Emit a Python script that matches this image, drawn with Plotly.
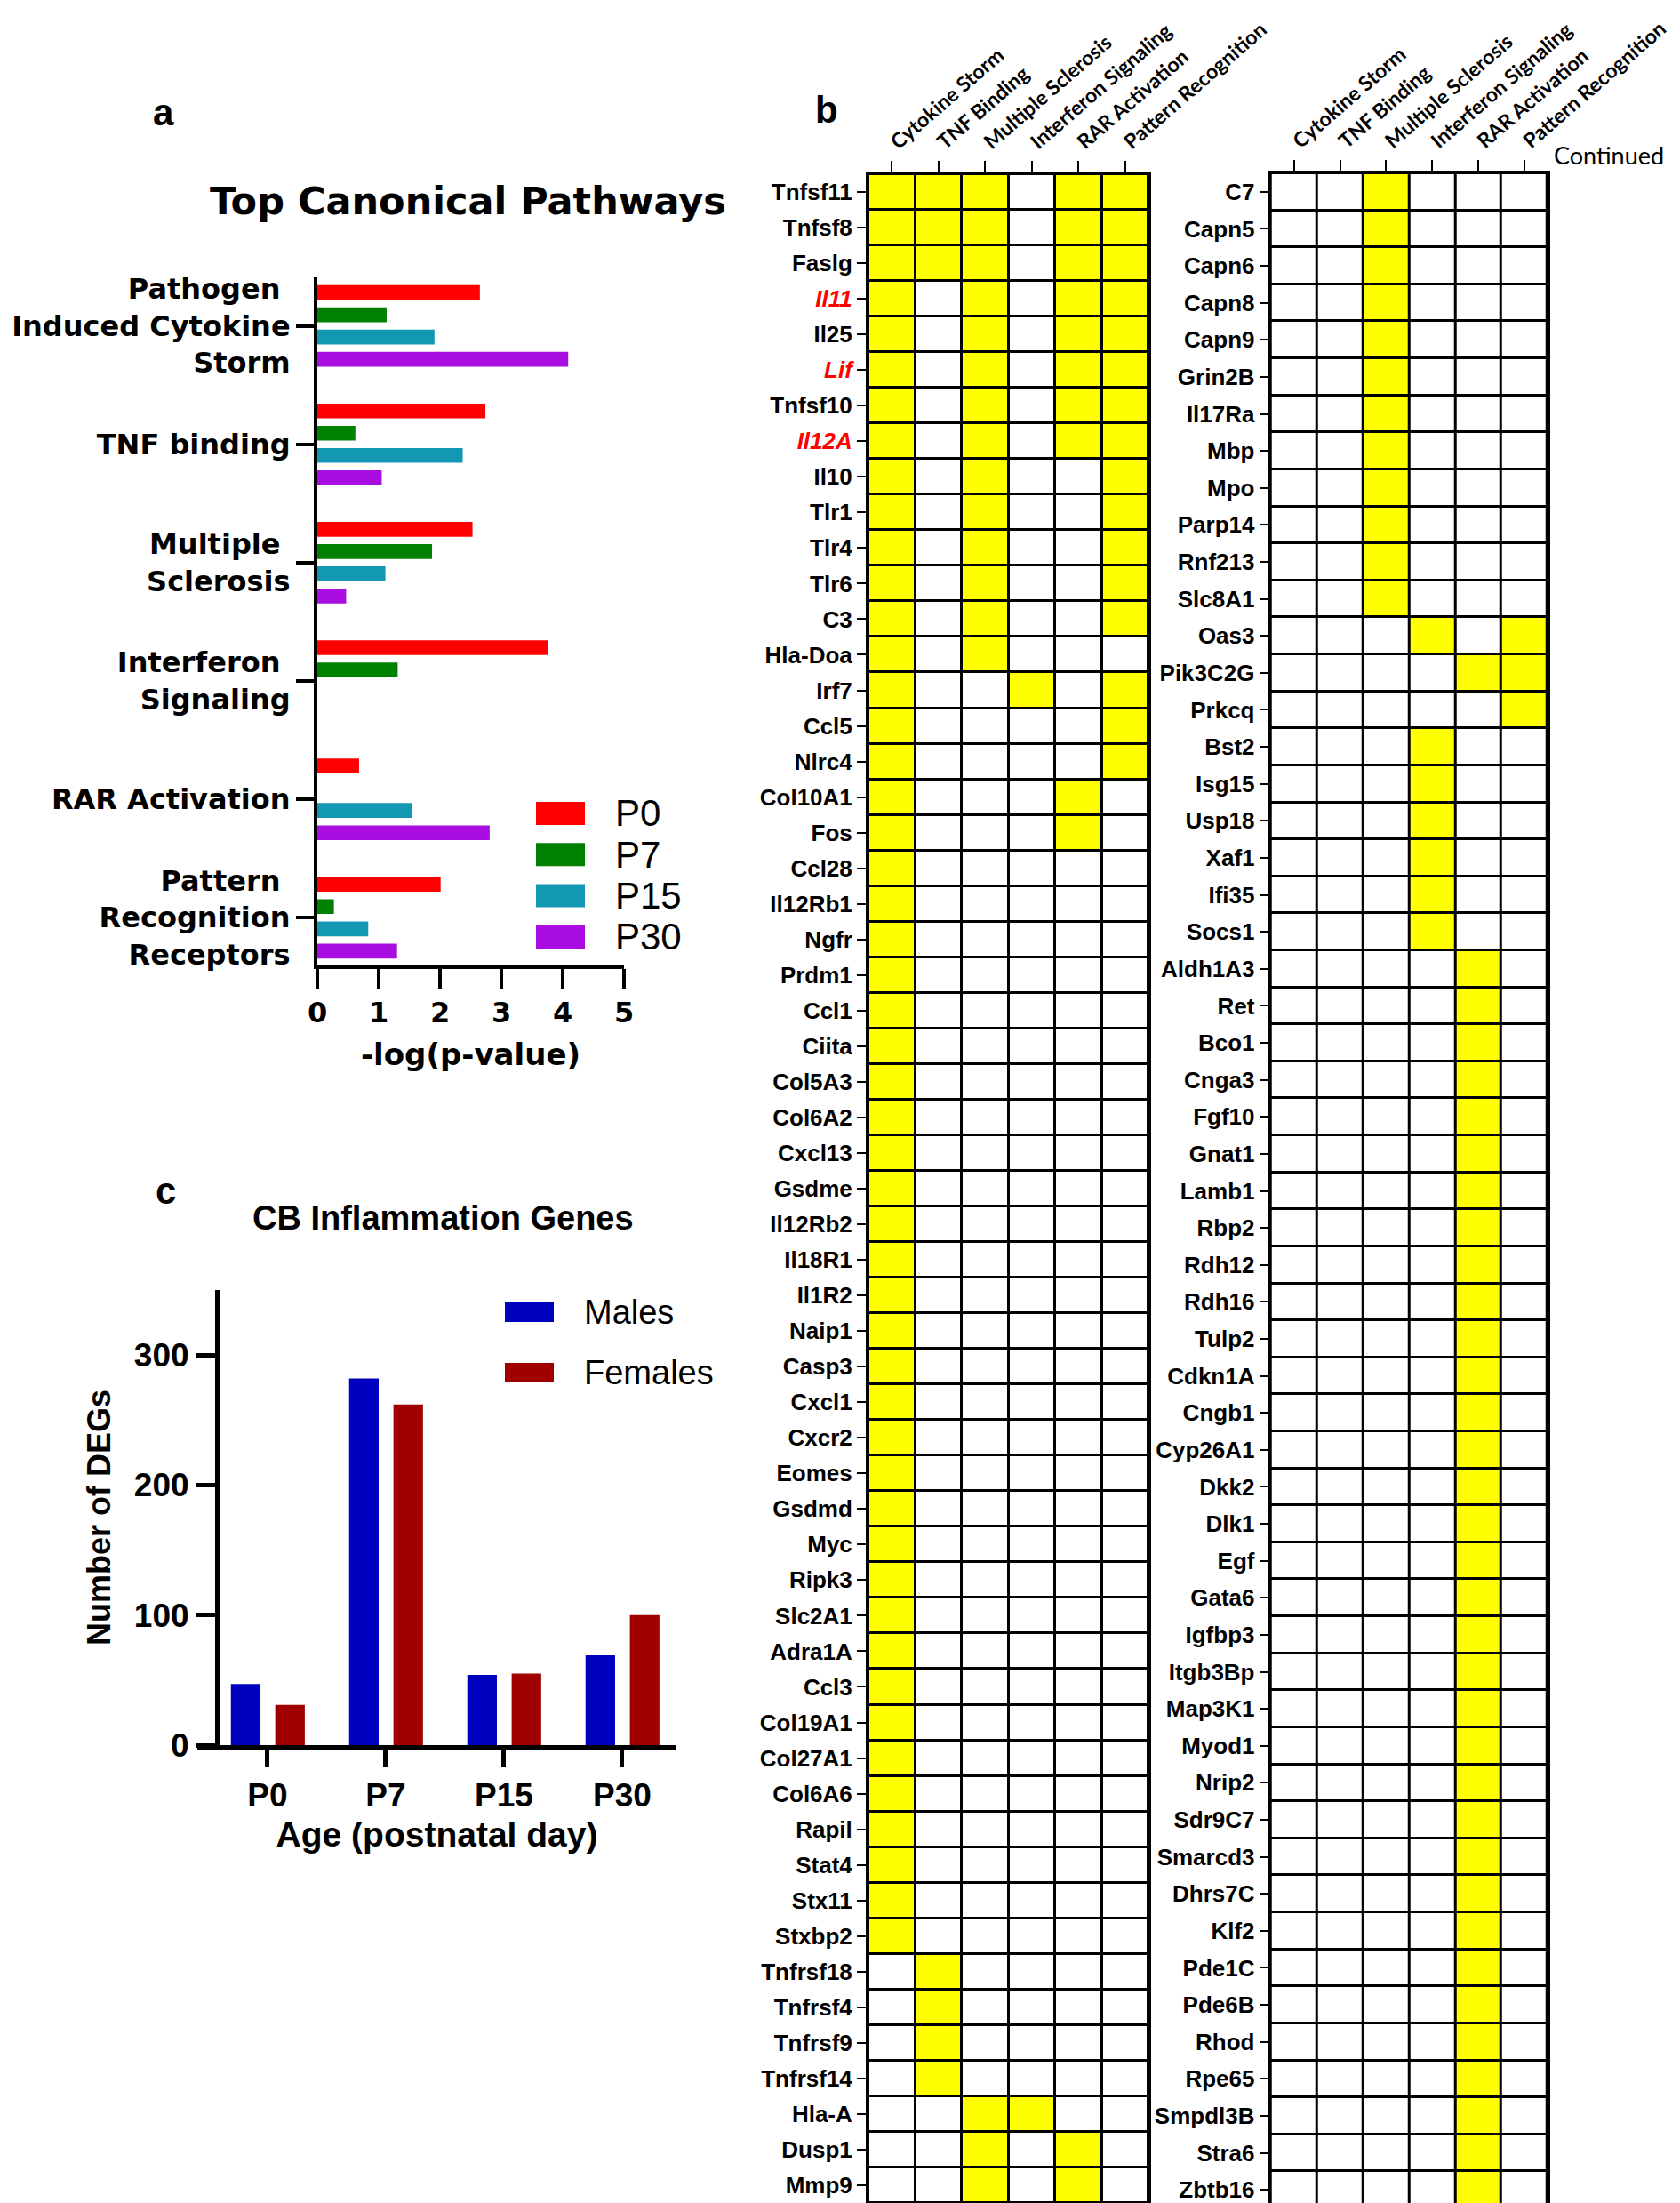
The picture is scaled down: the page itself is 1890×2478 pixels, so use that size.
import plotly.graph_objects as go

W, H = 1890, 2478

# ---------------- Panel a data ----------------
pathway_labels_a = [
    "Pathogen\u00a0<br>Induced Cytokine<br>Storm",
    "TNF binding",
    "Multiple\u00a0<br>Sclerosis",
    "Interferon\u00a0<br>Signaling",
    "RAR Activation",
    "Pattern\u00a0<br>Recognition<br>Receptors",
]
ages_a = ["P0", "P7", "P15", "P30"]
p0_vals = [2.65, 2.74, 2.53, 3.76, 0.68, 2.01]
p7_vals = [1.13, 0.62, 1.87, 1.31, None, 0.27]
p15_vals = [1.91, 2.37, 1.11, None, 1.55, 0.83]
p30_vals = [4.09, 1.05, 0.47, None, 2.81, 1.30]
colors_a = ["#FF0000", "#008000", "#1398B4", "#AA0DE0"]
xticks_a = [0, 1, 2, 3, 4, 5]

# ---------------- Panel b data ----------------
pathway_cols = ["Cytokine Storm", "TNF Binding", "Multiple Sclerosis",
                "Interferon Signaling", "RAR Activation", "Pattern Recognition"]

genes_left = ["Tnfsf11", "Tnfsf8", "Faslg", "Il11", "Il25", "Lif", "Tnfsf10", "Il12A",
              "Il10", "Tlr1", "Tlr4", "Tlr6", "C3", "Hla-Doa", "Irf7", "Ccl5", "Nlrc4",
              "Col10A1", "Fos", "Ccl28", "Il12Rb1", "Ngfr", "Prdm1", "Ccl1", "Ciita",
              "Col5A3", "Col6A2", "Cxcl13", "Gsdme", "Il12Rb2", "Il18R1", "Il1R2", "Naip1",
              "Casp3", "Cxcl1", "Cxcr2", "Eomes", "Gsdmd", "Myc", "Ripk3", "Slc2A1",
              "Adra1A", "Ccl3", "Col19A1", "Col27A1", "Col6A6", "Rapil", "Stat4", "Stx11",
              "Stxbp2", "Tnfrsf18", "Tnfrsf4", "Tnfrsf9", "Tnfrsf14", "Hla-A", "Dusp1", "Mmp9"]
membership_left = ["111011", "111011", "111011", "101011", "101011", "101011", "101011", "101011",
                   "101001", "101001", "101001", "101001", "101001", "101000", "100101", "100001",
                   "100001", "100010", "100010", "100000", "100000", "100000", "100000", "100000",
                   "100000", "100000", "100000", "100000", "100000", "100000", "100000", "100000",
                   "100000", "100000", "100000", "100000", "100000", "100000", "100000", "100000",
                   "100000", "100000", "100000", "100000", "100000", "100000", "100000", "100000",
                   "100000", "100000", "010000", "010000", "010000", "010000", "001100", "001010",
                   "001010"]
highlight_genes = ["Il11", "Lif", "Il12A"]

genes_right = ["C7", "Capn5", "Capn6", "Capn8", "Capn9", "Grin2B", "Il17Ra", "Mbp", "Mpo",
               "Parp14", "Rnf213", "Slc8A1", "Oas3", "Pik3C2G", "Prkcq", "Bst2", "Isg15",
               "Usp18", "Xaf1", "Ifi35", "Socs1", "Aldh1A3", "Ret", "Bco1", "Cnga3", "Fgf10",
               "Gnat1", "Lamb1", "Rbp2", "Rdh12", "Rdh16", "Tulp2", "Cdkn1A", "Cngb1",
               "Cyp26A1", "Dkk2", "Dlk1", "Egf", "Gata6", "Igfbp3", "Itgb3Bp", "Map3K1",
               "Myod1", "Nrip2", "Sdr9C7", "Smarcd3", "Dhrs7C", "Klf2", "Pde1C", "Pde6B",
               "Rhod", "Rpe65", "Smpdl3B", "Stra6", "Zbtb16"]
membership_right = ["001000", "001000", "001000", "001000", "001000", "001000", "001000",
                    "001000", "001000", "001000", "001000", "001000", "000101", "000011",
                    "000001", "000100", "000100", "000100", "000100", "000100", "000100",
                    "000010", "000010", "000010", "000010", "000010", "000010", "000010",
                    "000010", "000010", "000010", "000010", "000010", "000010", "000010",
                    "000010", "000010", "000010", "000010", "000010", "000010", "000010",
                    "000010", "000010", "000010", "000010", "000010", "000010", "000010",
                    "000010", "000010", "000010", "000010", "000010", "000010"]

# ---------------- Panel c data ----------------
ages_c = ["P0", "P7", "P15", "P30"]
males = [47, 282, 54, 69]
females = [31, 262, 55, 100]
sex_names = ["Males", "Females"]
colors_c = ["#0000C0", "#A00000"]
yticks_c = [0, 100, 200, 300]


def fx(p):
    return p / W


def fy(p):
    return 1 - p / H


BOLD_WIDE = "DejaVu Sans"
ARIAL = "Liberation Sans, Arial"
CAL = "Lato, Open Sans"

fig = go.Figure()

# ---- Panel a bars ----
series_a = [p0_vals, p7_vals, p15_vals, p30_vals]
bar_w_a = 0.125
for i, (name, vals, col) in enumerate(zip(ages_a, series_a, colors_a)):
    fig.add_trace(go.Bar(
        x=vals, y=list(range(len(pathway_labels_a))), orientation="h",
        marker=dict(color=col, line=dict(width=0)),
        width=bar_w_a, offset=-0.344 + 0.188 * i, name=name,
        xaxis="x", yaxis="y", showlegend=False, hoverinfo="x+name"))

# ---- Panel c bars ----
offsets_c = [-0.31, 0.065]
for name, vals, col, off in zip(sex_names, [males, females], colors_c, offsets_c):
    fig.add_trace(go.Bar(
        x=list(range(len(ages_c))), y=vals,
        marker=dict(color=col, line=dict(width=0)),
        width=0.25, offset=off, name=name,
        xaxis="x2", yaxis="y2", showlegend=False))


# ---- Panel b heatmaps ----
def gene_label(g):
    if g in highlight_genes:
        return "<i><span style='color:#FF0000'>%s</span></i>" % g
    return g


for genes, memb, xa, ya in [(genes_left, membership_left, "x3", "y3"),
                            (genes_right, membership_right, "x4", "y4")]:
    z = [[int(c) for c in m] for m in memb]
    fig.add_trace(go.Heatmap(
        z=z, x=list(range(len(pathway_cols))), y=list(range(len(genes))),
        colorscale=[[0, "#FFFFFF"], [1, "#FFFF00"]], zmin=0, zmax=1,
        showscale=False, xgap=3, ygap=3, xaxis=xa, yaxis=ya,
        hovertemplate="%{y}: %{x}<extra></extra>"))
    fig.add_shape(type="rect", xref=xa, yref=ya, x0=-0.5, x1=len(pathway_cols) - 0.5,
                  y0=-0.5, y1=len(genes) - 0.5, fillcolor="black",
                  line=dict(width=0), layer="below")

common_off = dict(showgrid=False, zeroline=False, automargin=False)

fig.update_layout(
    width=W, height=H, margin=dict(l=0, r=0, t=0, b=0, autoexpand=False),
    paper_bgcolor="white", plot_bgcolor="white", barmode="overlay",
    showlegend=False,
    xaxis=dict(domain=[fx(349), fx(694)], range=[0, 5], anchor="y",
               tickvals=xticks_a, ticks="outside", ticklen=22, tickwidth=4,
               tickcolor="black", showline=True, linewidth=4, linecolor="black",
               tickfont=dict(family=BOLD_WIDE, size=32, color="black", weight="bold"),
               title=dict(text="<b>-log(p-value)</b>", standoff=18,
                          font=dict(family=BOLD_WIDE, size=34, color="black", weight="bold")),
               **common_off),
    yaxis=dict(domain=[fy(1077.5), fy(304)], range=[5.40, -0.41], anchor="x",
               tickvals=list(range(len(pathway_labels_a))), ticktext=pathway_labels_a,
               ticks="outside", ticklen=20, tickwidth=4, tickcolor="black",
               showline=True, linewidth=4, linecolor="black", ticklabeloverflow="allow",
               tickfont=dict(family=BOLD_WIDE, size=32, color="black", weight="bold"),
               **common_off),
    xaxis2=dict(domain=[fx(214), fx(753)], range=[-0.594, 3.459], anchor="y2",
                tickvals=list(range(len(ages_c))), ticktext=ages_c,
                ticks="outside", ticklen=20, tickwidth=5, tickcolor="black",
                showline=True, linewidth=5, linecolor="black",
                tickfont=dict(family=ARIAL, size=37, color="black", weight="bold"),
                title=dict(text="<b>Age (postnatal day)</b>", standoff=12,
                           font=dict(family=ARIAL, size=39, color="black", weight="bold")),
                **common_off),
    yaxis2=dict(domain=[fy(1955), fy(1443)], range=[0, 350], anchor="free",
                position=fx(236), tickvals=yticks_c,
                ticks="outside", ticklen=22, tickwidth=5, tickcolor="black",
                showline=True, linewidth=5, linecolor="black",
                tickfont=dict(family=ARIAL, size=37, color="black", weight="bold"),
                title=dict(text="<b>Number of DEGs</b>", standoff=14,
                           font=dict(family=ARIAL, size=36, color="black", weight="bold")),
                **common_off),
)

for xa, ya, genes, x0, x1, y0, y1 in [
        ("xaxis3", "yaxis3", genes_left, 969, 1284, 188, 2470),
        ("xaxis4", "yaxis4", genes_right, 1421.7, 1733, 187, 2476)]:
    xid = "x" + xa[-1]
    yid = "y" + ya[-1]
    fig.layout[xa] = dict(domain=[fx(x0), fx(x1)], range=[-0.5, len(pathway_cols) - 0.5],
                          anchor=yid, side="top", tickvals=list(range(len(pathway_cols))),
                          ticktext=pathway_cols, tickangle=-41, ticks="outside",
                          ticklen=12, tickwidth=2, tickcolor="black",
                          showline=True, mirror=True, linewidth=3, linecolor="black",
                          ticklabeloverflow="allow",
                          tickfont=dict(family=CAL, size=23, color="black", weight="bold"),
                          **common_off)
    fig.layout[ya] = dict(domain=[fy(y1), fy(y0)], range=[len(genes) - 0.5, -0.5],
                          anchor=xid, tickvals=list(range(len(genes))),
                          ticktext=[gene_label(g) for g in genes],
                          ticks="outside", ticklen=10, tickwidth=2, tickcolor="black",
                          showline=True, mirror=True, linewidth=3, linecolor="black",
                          ticklabeloverflow="allow",
                          tickfont=dict(family=ARIAL, size=26, color="black", weight="bold"),
                          **common_off)

# ---- Legends (swatches + labels) ----
for i, (name, col) in enumerate(zip(ages_a, colors_a)):
    yc = 907 + i * 46.3
    fig.add_shape(type="rect", xref="paper", yref="paper", x0=fx(595), x1=fx(650),
                  y0=fy(yc + 13), y1=fy(yc - 13), fillcolor=col, line=dict(width=0))
    fig.add_annotation(x=fx(682), y=fy(yc), xref="paper", yref="paper", text=name,
                       showarrow=False, xanchor="left", yanchor="middle",
                       font=dict(family=ARIAL, size=42, color="black"))

for i, (name, col) in enumerate(zip(sex_names, colors_c)):
    yc = 1468 + i * 68
    fig.add_shape(type="rect", xref="paper", yref="paper", x0=fx(560), x1=fx(615),
                  y0=fy(yc + 11), y1=fy(yc - 11), fillcolor=col, line=dict(width=0))
    fig.add_annotation(x=fx(647), y=fy(yc), xref="paper", yref="paper", text=name,
                       showarrow=False, xanchor="left", yanchor="middle",
                       font=dict(family=ARIAL, size=38, color="black"))

# ---- Titles and panel letters ----
texts = [
    ("a", 176, 118, ARIAL, 42, "bold", "center"),
    ("b", 922, 115, ARIAL, 42, "bold", "center"),
    ("c", 178, 1332, ARIAL, 42, "bold", "center"),
    ("Top Canonical Pathways", 518, 218, BOLD_WIDE, 43, "bold", "center"),
    ("CB Inflammation Genes", 490, 1362, ARIAL, 38, "bold", "center"),
    ("Continued", 1738, 166, CAL, 27, "normal", "left"),
]
for t, x, y, fam, sz, wt, anc in texts:
    fig.add_annotation(x=fx(x), y=fy(y), xref="paper", yref="paper", text=t,
                       showarrow=False, xanchor=anc, yanchor="middle",
                       font=dict(family=fam, size=sz, color="black", weight=wt))

fig.write_html("out.html")
